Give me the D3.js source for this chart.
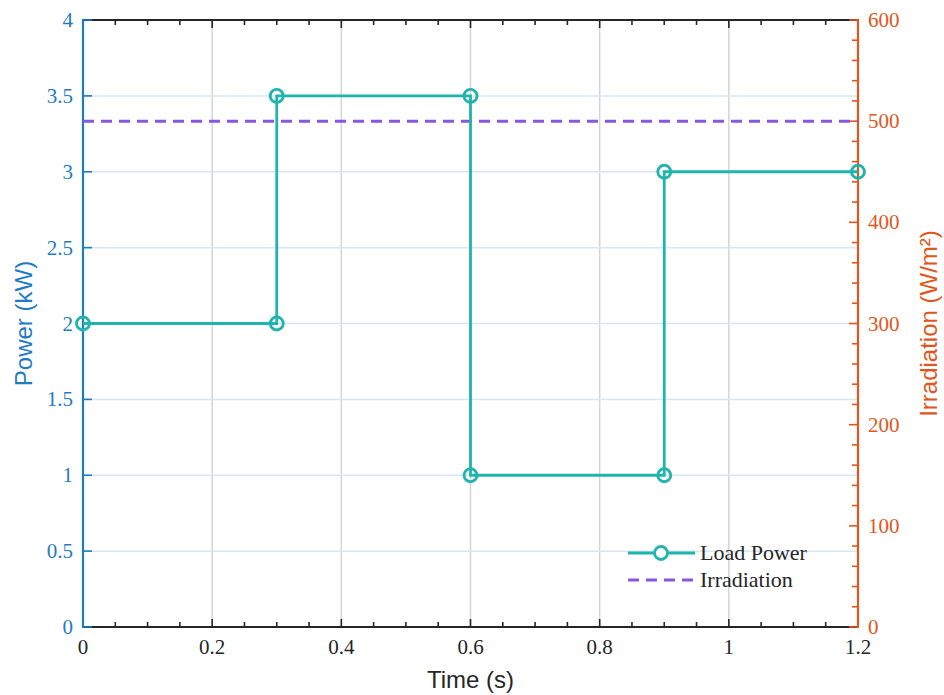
<!doctype html>
<html>
<head>
<script src="https://d3js.org/d3.v7.min.js"></script>
<style>
body { margin: 0; background: #fff; }
svg { display: block; }
</style>
</head>
<body>
<svg id="chart" width="944" height="695"></svg>
<script>
// data
var loadTime = [0, 0.3, 0.3, 0.6, 0.6, 0.9, 0.9, 1.2];
var loadPower = [2, 2, 3.5, 3.5, 1, 1, 3, 3];
var irrTime = [0, 1.2];
var irrValue = [500, 500];
var xTicks = [0, 0.2, 0.4, 0.6, 0.8, 1, 1.2];
var yTicks = [0, 0.5, 1, 1.5, 2, 2.5, 3, 3.5, 4];
var y2Ticks = [0, 100, 200, 300, 400, 500, 600];
var legendLabels = ["Load Power", "Irradiation"];

var BLUE = "#1f7cc4", ORANGE = "#e0561c", TEAL = "#1fb5ad", PURPLE = "#8957dd";
var serif = "'Liberation Serif', 'DejaVu Serif', serif";
var sans = "'Liberation Sans', Arial, sans-serif";

var L = 83, R = 858, T = 20, B = 627;
var svg = d3.select("#chart");

var x = d3.scaleLinear().domain([0, 1.2]).range([L, R]);
var y = d3.scaleLinear().domain([0, 4]).range([B, T]);
var y2 = d3.scaleLinear().domain([0, 600]).range([B, T]);

var xMinor = d3.range(0, 25).map(i => i * 0.05);
var y2Minor = d3.range(0, 31).map(i => i * 20);

// grid
var grid = svg.append("g");
grid.selectAll(".vg").data(xTicks.slice(1, -1)).enter().append("line")
  .attr("x1", d => x(d)).attr("x2", d => x(d)).attr("y1", T).attr("y2", B)
  .attr("stroke", "#d3d5d8").attr("stroke-width", 1.5);
grid.selectAll(".hg").data(yTicks.slice(1, -1)).enter().append("line")
  .attr("x1", L).attr("x2", R).attr("y1", d => y(d)).attr("y2", d => y(d))
  .attr("stroke", "#d8e6f3").attr("stroke-width", 1.5);

// top & bottom axes (box)
function hAxis(yPos, dir, labels) {
  var g = svg.append("g");
  g.append("line").attr("x1", L).attr("x2", R).attr("y1", yPos).attr("y2", yPos)
    .attr("stroke", "#262626").attr("stroke-width", 2);
  g.selectAll(".mt").data(xMinor).enter().append("line")
    .attr("x1", d => x(d)).attr("x2", d => x(d))
    .attr("y1", yPos).attr("y2", (d, i) => yPos + dir * (i % 4 === 0 ? 8 : 5))
    .attr("stroke", "#262626").attr("stroke-width", 1.6);
  if (labels) {
    g.selectAll("text").data(xTicks).enter().append("text")
      .attr("x", d => x(d)).attr("y", yPos + 27)
      .attr("text-anchor", "middle")
      .attr("font-family", serif).attr("font-size", 21).attr("fill", "#262626")
      .text(d => d3.format("~g")(d));
  }
}
hAxis(T, 1, false);
hAxis(B, -1, true);

// left axis
var gl = svg.append("g");
gl.selectAll("line.t").data(yTicks).enter().append("line")
  .attr("x1", L).attr("x2", L + 9).attr("y1", d => y(d)).attr("y2", d => y(d))
  .attr("stroke", BLUE).attr("stroke-width", 1.6);
gl.append("line").attr("x1", L).attr("x2", L).attr("y1", T - 1).attr("y2", B + 1)
  .attr("stroke", BLUE).attr("stroke-width", 2.2);
gl.selectAll("text").data(yTicks).enter().append("text")
  .attr("x", L - 10).attr("y", d => y(d) + 7)
  .attr("text-anchor", "end")
  .attr("font-family", serif).attr("font-size", 21).attr("fill", BLUE)
  .text(d => d3.format("~g")(d));
svg.append("text")
  .attr("transform", "translate(32," + ((T + B) / 2) + ") rotate(-90)")
  .attr("text-anchor", "middle")
  .attr("font-family", sans).attr("font-size", 24).attr("fill", BLUE)
  .text("Power (kW)");

// right axis
var gr = svg.append("g");
gr.selectAll("line.t").data(y2Minor).enter().append("line")
  .attr("x1", R).attr("x2", (d, i) => R - (i % 5 === 0 ? 9 : 6))
  .attr("y1", d => y2(d)).attr("y2", d => y2(d))
  .attr("stroke", ORANGE).attr("stroke-width", 1.6);
gr.append("line").attr("x1", R).attr("x2", R).attr("y1", T - 1).attr("y2", B + 1)
  .attr("stroke", ORANGE).attr("stroke-width", 2.2);
gr.selectAll("text").data(y2Ticks).enter().append("text")
  .attr("x", R + 10).attr("y", d => y2(d) + 7)
  .attr("text-anchor", "start")
  .attr("font-family", serif).attr("font-size", 21).attr("fill", ORANGE)
  .text(d => d);
svg.append("text")
  .attr("transform", "translate(937," + ((T + B) / 2) + ") rotate(-90)")
  .attr("text-anchor", "middle")
  .attr("font-family", sans).attr("font-size", 24).attr("fill", ORANGE)
  .text("Irradiation (W/m²)");

// x label
svg.append("text")
  .attr("x", (L + R) / 2).attr("y", 688)
  .attr("text-anchor", "middle")
  .attr("font-family", sans).attr("font-size", 24).attr("fill", "#262626")
  .text("Time (s)");

// irradiation dashed
var irrData = irrTime.map((t, i) => [t, irrValue[i]]);
svg.append("path").datum(irrData)
  .attr("d", d3.line().x(d => x(d[0])).y(d => y2(d[1])))
  .attr("fill", "none").attr("stroke", PURPLE).attr("stroke-width", 3)
  .attr("stroke-dasharray", "11,7");

// load power
var loadData = loadTime.map((t, i) => [t, loadPower[i]]);
svg.append("path").datum(loadData)
  .attr("d", d3.line().x(d => x(d[0])).y(d => y(d[1])))
  .attr("fill", "none").attr("stroke", TEAL).attr("stroke-width", 2.8);
svg.selectAll("circle.m").data(loadData).enter().append("circle")
  .attr("cx", d => x(d[0])).attr("cy", d => y(d[1])).attr("r", 6.5)
  .attr("fill", "none").attr("stroke", TEAL).attr("stroke-width", 2.8);

// legend
var lg = svg.append("g");
lg.append("line").attr("x1", 628).attr("x2", 695).attr("y1", 553).attr("y2", 553)
  .attr("stroke", TEAL).attr("stroke-width", 2.8);
lg.append("circle").attr("cx", 661).attr("cy", 553).attr("r", 6.5)
  .attr("fill", "#fff").attr("stroke", TEAL).attr("stroke-width", 2.8);
lg.append("line").attr("x1", 628).attr("x2", 695).attr("y1", 580).attr("y2", 580)
  .attr("stroke", PURPLE).attr("stroke-width", 3).attr("stroke-dasharray", "11,7");
lg.selectAll("text").data(legendLabels).enter().append("text")
  .attr("x", 700).attr("y", (d, i) => 560 + i * 27)
  .attr("font-family", serif).attr("font-size", 22).attr("fill", "#262626")
  .text(d => d);
</script>
</body>
</html>
